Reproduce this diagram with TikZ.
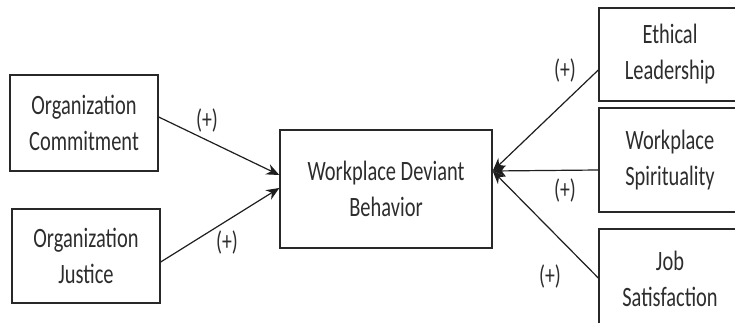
\documentclass[tikz,border=0pt]{standalone}
\usepackage{fontspec}
\setmainfont{Carlito}[FakeStretch=0.73]
\usetikzlibrary{arrows.meta}
\definecolor{boxc}{RGB}{40,40,40}
\definecolor{linec}{RGB}{30,30,30}
\definecolor{txtc}{RGB}{45,45,45}
\begin{document}
\begin{tikzpicture}[x=1pt,y=-1pt,
  box/.style={draw=boxc, line width=1.4pt, inner sep=0pt, align=center, text=txtc,
    font=\fontsize{28}{36}\selectfont},
  conn/.style={draw=linec, line width=1.2pt, -{Stealth[length=13pt,width=11pt]}},
  sign/.style={text=txtc, font=\fontsize{27}{30}\selectfont, inner sep=0pt}]
\useasboundingbox (0,0) rectangle (735,323);
\fill[white] (0,0) rectangle (735,323);
\node[box, minimum width=148pt, minimum height=96pt] (oc) at (84,123) {Organization\\Commitment};
\node[box, minimum width=148pt, minimum height=94pt] (oj) at (86,256) {Organization\\Justice};
\node[box, minimum width=212pt, minimum height=118pt] (wdb) at (386,189) {Workplace Deviant\\Behavior};
\node[box, minimum width=142pt, minimum height=93pt] (el) at (670,54.5) {Ethical\\Leadership};
\node[box, minimum width=142pt, minimum height=104pt] (ws) at (670,160) {Workplace\\Spirituality};
\node[box, minimum width=142pt, minimum height=100pt] (js) at (670,279) {Job\\Satisfaction};
\coordinate (hub) at ([yshift=18pt]wdb.east);
\draw[conn] ([yshift=6pt]oc.east) -- ([yshift=14pt]wdb.west);
\draw[conn] ([yshift=-6pt]oj.east) -- ([yshift=1pt]wdb.west);
\draw[conn] ([yshift=-15.5pt]el.west) -- (hub);
\draw[conn] ([yshift=-10pt]ws.west) -- (hub);
\draw[conn] ([yshift=1pt]js.west) -- (hub);
\node[sign] (s1) at (207,120) {(+)};
\node[sign] (s2) at (227,242) {(+)};
\node[sign] (s3) at (565,70) {(+)};
\node[sign] (s4) at (565,190) {(+)};
\node[sign] (s5) at (550,276) {(+)};
\end{tikzpicture}
\end{document}
